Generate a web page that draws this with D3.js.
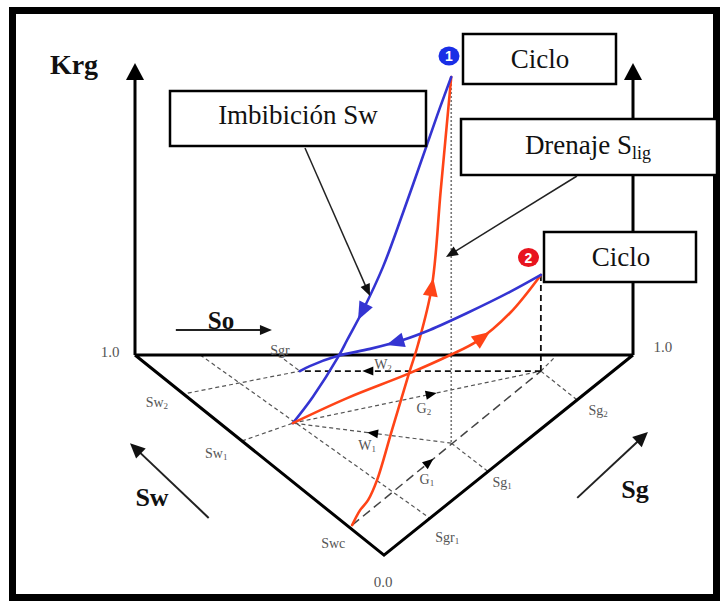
<!DOCTYPE html>
<html>
<head>
<meta charset="utf-8">
<script src="https://cdn.jsdelivr.net/npm/d3@7"></script>
<style>
  body { margin: 0; background: #fff; }
  svg { display: block; }
</style>
</head>
<body>
<svg id="chart" width="723" height="604"></svg>
<script>
// Coordinates: u runs along the base plane from the Krg axis (0) to the far axis (100);
// v is Krg in percent above the base plane, negative v lies on the ternary triangle below it.

// Relative-permeability hysteresis curves
const drainage1   = [[43.6,-61.2],[45.2,-55.8],[46.8,-52.2],[48.6,-45.0],[51.6,-27.0],[54.8,-7.9],[56.8,3.6],[59.6,24.5],[61.4,59.4],[63.5,100]];
const imbibition1 = [[63.5,100],[61.2,88.8],[58.6,75.5],[53.8,51.1],[49.8,31.7],[45.8,16.2],[42.6,5.4],[40.8,-0.7],[35.7,-15.1],[31.7,-24.5]];
const drainage2   = [[31.7,-24.5],[42.6,-15.5],[54.8,-6.8],[63.3,0],[68.7,5.0],[75.3,15.1],[81.5,28.8]];
const imbibition2 = [[81.5,28.8],[75.3,22.7],[66.7,15.1],[59.2,9.0],[53.8,5.4],[47.2,2.2],[40.6,-0.4],[35.1,-4.0],[33.1,-5.8]];

// Cycle end points (Krg peaks) and their projections on the saturation triangle
const cyclePeaks = [[63.5,100],[81.5,28.8]];
const peakFeet   = [[63.5,-31.7],[81.5,-5.8]];

// Saturation path on the triangle
const swcPoint  = [43.6,-61.2];
const meetPoint = [31.7,-24.5];
const w2End     = [33.1,-5.8];

// Constant-saturation guide lines
const guideLines = [
  [[13.1,0],[59.2,-58.7]],
  [[28.8,0],[33.1,-5.8]],
  [[10.6,-13.7],[33.1,-5.8]],
  [[21.5,-30.9],[31.7,-24.5]],
  [[63.5,-31.7],[70.9,-41.9]],
  [[81.5,-5.8],[88.8,-16.2]],
  [[81.5,-5.8],[84.4,-0.6]]
];

// Saturation steps: name, subscript, start, end, arrow position (fraction)
const steps = [
  { name: "G", sub: "1", from: swcPoint,     to: peakFeet[1], at: 0.41, kind: "long"  },
  { name: "W", sub: "1", from: peakFeet[0],  to: meetPoint,   at: 0.50, kind: "grey"  },
  { name: "G", sub: "2", from: meetPoint,    to: peakFeet[1], at: 0.56, kind: "grey"  },
  { name: "W", sub: "2", from: peakFeet[1],  to: w2End,       at: 0.72, kind: "black" }
];

// Saturation labels: text, subscript, position
const satLabels = [
  ["Sgr","",29.1,1.8], ["Sw","2",4.4,-16.9], ["Sw","1",16.3,-35.3], ["Swc","",39.8,-67.6],
  ["Sgr","1",62.7,-65.5], ["Sg","1",73.7,-45.7], ["Sg","2",93.0,-19.8],
  ["G","2",58.0,-19.1], ["W","1",46.6,-32.4], ["G","1",58.6,-44.6], ["W","2",49.8,-3.2]
];

// Axis tick labels
const tickLabels = ["1.0","1.0","0.0"];
const tickPos    = [[-5.0,1.1],[106.0,2.9],[49.8,-81.7]];

// Triangle and axes
const triangle = [[0,0],[50,-72],[100,0]];
const axisTop = 105;

// Direction arrows for the saturation axes
const dirArrows = [
  { label: "So", from: [8.2,9.0],    to: [27.5,9.0] },
  { label: "Sw", from: [14.8,-58.6], to: [-1.0,-31.7] },
  { label: "Sg", from: [88.8,-51.4], to: [103.0,-27.7] }
];

// Callout boxes
const boxTexts = ["Ciclo", "Imbibición Sw", "Drenaje S", "Ciclo"];
const boxSubs  = ["", "", "lig", ""];

// ---------- layout ----------
const W = 723, H = 604;
const x = d3.scaleLinear().domain([0,100]).range([135,633]);
const y = d3.scaleLinear().domain([0,100]).range([355,77]);
const px = d => [x(d[0]), y(d[1])];

const svg = d3.select("#chart");
const serif = "'Liberation Serif','Times New Roman',serif";
const BLUE = "#3434d2", RED = "#ff4417";

function arrowHead(g, tip, dir, len, half, fill) {
  const n = Math.hypot(dir[0], dir[1]);
  const dx = dir[0]/n, dy = dir[1]/n;
  const bx = tip[0] - dx*len, by = tip[1] - dy*len;
  const p1 = [bx - dy*half, by + dx*half], p2 = [bx + dy*half, by - dx*half];
  g.append("path").attr("d", `M${tip[0]},${tip[1]}L${p1[0]},${p1[1]}L${p2[0]},${p2[1]}Z`).attr("fill", fill);
}

// outer frame
svg.append("rect").attr("x", 12.5).attr("y", 10.5).attr("width", 704).attr("height", 587)
  .attr("fill", "#fff").attr("stroke", "#000").attr("stroke-width", 7);

const gGrid = svg.append("g");
// guide lines
guideLines.forEach(l => {
  gGrid.append("line")
    .attr("x1", x(l[0][0])).attr("y1", y(l[0][1])).attr("x2", x(l[1][0])).attr("y2", y(l[1][1]))
    .attr("stroke", "#555").attr("stroke-width", 1.2).attr("stroke-dasharray", "4,3");
});
// projection of peak 1 (dotted) and peak 2 (dashed)
gGrid.append("line")
  .attr("x1", x(cyclePeaks[0][0])).attr("y1", y(cyclePeaks[0][1]) + 3)
  .attr("x2", x(peakFeet[0][0])).attr("y2", y(peakFeet[0][1]))
  .attr("stroke", "#777").attr("stroke-width", 1.6).attr("stroke-dasharray", "2,2");
gGrid.append("line")
  .attr("x1", x(cyclePeaks[1][0])).attr("y1", y(cyclePeaks[1][1]))
  .attr("x2", x(peakFeet[1][0])).attr("y2", y(peakFeet[1][1]))
  .attr("stroke", "#111").attr("stroke-width", 1.8).attr("stroke-dasharray", "6,4");

const stepStyle = {
  long:  { stroke: "#444", width: 1.5, dash: "9,5" },
  grey:  { stroke: "#555", width: 1.2, dash: "4,3" },
  black: { stroke: "#111", width: 1.8, dash: "6,4" }
};
steps.forEach(s => {
  const st = stepStyle[s.kind];
  const a = px(s.from), b = px(s.to);
  gGrid.append("line").attr("x1", a[0]).attr("y1", a[1]).attr("x2", b[0]).attr("y2", b[1])
    .attr("stroke", st.stroke).attr("stroke-width", st.width).attr("stroke-dasharray", st.dash);
  const m = [a[0] + (b[0]-a[0])*s.at, a[1] + (b[1]-a[1])*s.at];
  const dir = [b[0]-a[0], b[1]-a[1]];
  const n = Math.hypot(dir[0], dir[1]);
  arrowHead(gGrid, [m[0] + dir[0]/n*5, m[1] + dir[1]/n*5], dir, 11, 4.5, "#000");
});

// axes and triangle
const gAxes = svg.append("g");
[0, 100].forEach(u => {
  gAxes.append("line").attr("x1", x(u)).attr("y1", y(0)).attr("x2", x(u)).attr("y2", y(axisTop) + 10)
    .attr("stroke", "#000").attr("stroke-width", 3);
  arrowHead(gAxes, [x(u), y(axisTop)], [0,-1], 17, 9, "#000");
});
gAxes.append("path")
  .attr("d", "M" + x(0) + "," + y(0) + "L" + x(100) + "," + y(0) + "M" + triangle.map(p => px(p).join(",")).join("L"))
  .attr("fill", "none").attr("stroke", "#000").attr("stroke-width", 3).attr("stroke-linejoin", "miter");

// tick labels
tickLabels.forEach((t, i) => {
  svg.append("text").attr("x", x(tickPos[i][0])).attr("y", y(tickPos[i][1]))
    .attr("text-anchor", "middle").attr("dominant-baseline", "central")
    .attr("font-family", serif).attr("font-size", 15).attr("fill", "#555").text(t);
});

// saturation labels
satLabels.forEach(l => {
  const t = svg.append("text").attr("x", x(l[2])).attr("y", y(l[3]))
    .attr("text-anchor", "middle").attr("dominant-baseline", "central")
    .attr("font-family", serif).attr("font-size", 14).attr("fill", "#555");
  t.append("tspan").text(l[0]);
  if (l[1]) t.append("tspan").attr("font-size", 9).attr("dy", 4).text(l[1]);
});

// direction arrows
dirArrows.forEach(d => {
  const a = px(d.from), b = px(d.to);
  const dir = [b[0]-a[0], b[1]-a[1]];
  svg.append("line").attr("x1", a[0]).attr("y1", a[1]).attr("x2", b[0] - dir[0]*0.08).attr("y2", b[1] - dir[1]*0.08)
    .attr("stroke", "#222").attr("stroke-width", 2);
  arrowHead(svg, b, dir, d.label === "So" ? 12 : 15, d.label === "So" ? 5 : 7, "#111");
});
const bigLabel = (t, xx, yy, size) => svg.append("text").attr("x", xx).attr("y", yy)
  .attr("text-anchor", "middle").attr("font-family", serif).attr("font-weight", "bold")
  .attr("font-size", size).attr("fill", "#111").text(t);
bigLabel("Krg", 74, 74, 28);
bigLabel(dirArrows[0].label, 221, 329, 25);
bigLabel(dirArrows[1].label, 152, 506, 26);
bigLabel(dirArrows[2].label, 635, 498, 26);

// hysteresis curves
const line = d3.line().x(d => x(d[0])).y(d => y(d[1])).curve(d3.curveCatmullRom.alpha(0.5));
const curves = [
  { data: drainage1,   color: RED,  arrow: [59.6,24.5] },
  { data: imbibition1, color: BLUE, arrow: [45.6,15.5] },
  { data: drainage2,   color: RED,  arrow: [69.7,6.5] },
  { data: imbibition2, color: BLUE, arrow: [52.2,4.7] }
];
const gCurves = svg.append("g");
curves.forEach(c => {
  const p = gCurves.append("path").attr("d", line(c.data)).attr("fill", "none")
    .attr("stroke", c.color).attr("stroke-width", 2.6).attr("stroke-linecap", "round");
  const node = p.node(), L = node.getTotalLength();
  const target = px(c.arrow);
  let best = 0, bd = Infinity;
  for (let s = 0; s <= L; s += 0.5) {
    const q = node.getPointAtLength(s);
    const dd = (q.x - target[0])**2 + (q.y - target[1])**2;
    if (dd < bd) { bd = dd; best = s; }
  }
  const q0 = node.getPointAtLength(Math.max(0, best - 3)), q1 = node.getPointAtLength(Math.min(L, best + 3));
  const dir = [q1.x - q0.x, q1.y - q0.y];
  const n = Math.hypot(dir[0], dir[1]);
  const c0 = node.getPointAtLength(best);
  arrowHead(gCurves, [c0.x + dir[0]/n*9, c0.y + dir[1]/n*9], dir, 18, 7.5, c.color);
});

// callout boxes
const boxLayout = [
  { x: 463, y: 34, w: 153, h: 50, tx: 540, ty: 68 },
  { x: 170, y: 91, w: 256, h: 55, tx: 298, ty: 124 },
  { x: 461, y: 119, w: 256, h: 56, tx: 588, ty: 154 },
  { x: 544, y: 232, w: 152, h: 50, tx: 621, ty: 266 }
];
boxLayout.forEach((b, i) => {
  svg.append("rect").attr("x", b.x).attr("y", b.y).attr("width", b.w).attr("height", b.h)
    .attr("fill", "#fff").attr("stroke", "#000").attr("stroke-width", 2.5);
  const t = svg.append("text").attr("x", b.tx).attr("y", b.ty).attr("text-anchor", "middle")
    .attr("font-family", serif).attr("font-size", 27).attr("fill", "#111");
  t.append("tspan").text(boxTexts[i]);
  if (boxSubs[i]) t.append("tspan").attr("font-size", 18).attr("dy", 5).text(boxSubs[i]);
});

// callout pointers
const pointers = [
  { from: [305,148], to: [370,296] },
  { from: [577,176], to: [446,257] }
];
pointers.forEach(p => {
  const dir = [p.to[0]-p.from[0], p.to[1]-p.from[1]];
  const n = Math.hypot(dir[0], dir[1]);
  svg.append("line").attr("x1", p.from[0]).attr("y1", p.from[1])
    .attr("x2", p.to[0] - dir[0]/n*8).attr("y2", p.to[1] - dir[1]/n*8)
    .attr("stroke", "#222").attr("stroke-width", 1.5);
  arrowHead(svg, p.to, dir, 12, 5, "#111");
});

// cycle markers
const markers = [
  { n: "1", c: [449,56], fill: "#1a2ee6" },
  { n: "2", c: [528.5,257.5], fill: "#e8141e" }
];
markers.forEach(m => {
  svg.append("ellipse").attr("cx", m.c[0]).attr("cy", m.c[1]).attr("rx", 10.5).attr("ry", 9.5).attr("fill", m.fill);
  svg.append("text").attr("x", m.c[0]).attr("y", m.c[1] + 5).attr("text-anchor", "middle")
    .attr("font-family", "'Liberation Sans',Arial,sans-serif").attr("font-weight", "bold")
    .attr("font-size", 14).attr("fill", "#fff").text(m.n);
});
</script>
</body>
</html>
